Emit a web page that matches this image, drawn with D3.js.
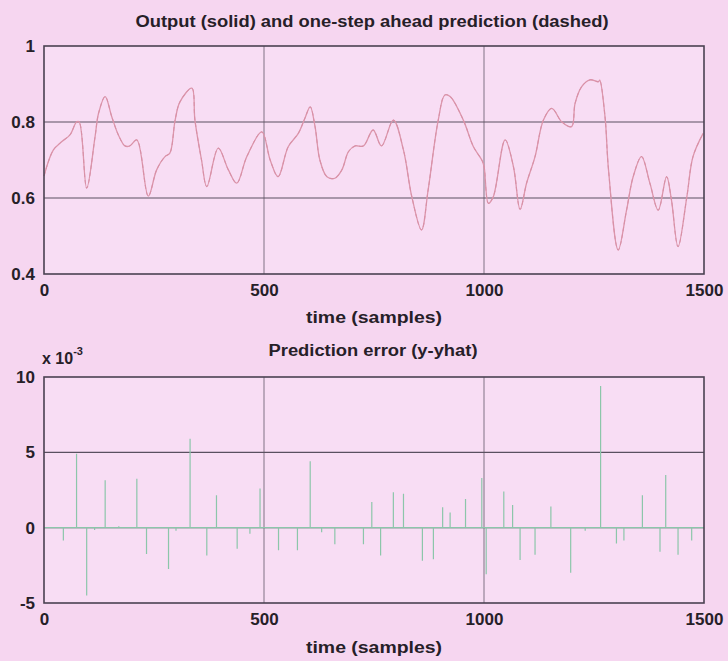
<!DOCTYPE html>
<html>
<head>
<meta charset="utf-8">
<script src="https://cdn.jsdelivr.net/npm/d3@7"></script>
<style>
  html, body { margin: 0; padding: 0; background: #f6d6f0; }
  svg { display: block; }
  text { font-family: "Liberation Sans", Arial, sans-serif; font-weight: bold; fill: #262028; }
</style>
</head>
<body>
<svg id="chart" width="728" height="661"></svg>
<script>
// Output signal y(t): samples read along the time axis
const outT = [0, 21, 40, 59, 74, 80, 97, 116, 124, 139, 154, 169, 184, 195, 211, 237, 256, 275, 286, 298, 309, 336, 343, 358, 370,
  396, 419, 438, 461, 495, 514, 532, 555, 578, 593, 605, 616, 627, 643, 661, 677, 692, 707, 726, 748, 767, 794, 817, 836, 858,
  873, 896, 911, 923, 953, 976, 995, 1000, 1010, 1021, 1048, 1067, 1082, 1097, 1116, 1135, 1154, 1177, 1199, 1207, 1222, 1241,
  1260, 1263, 1275, 1283, 1305, 1324, 1339, 1358, 1377, 1396, 1415, 1426, 1441, 1461, 1475, 1498];
const outY = [0.658, 0.726, 0.748, 0.766, 0.800, 0.800, 0.626, 0.761, 0.823, 0.867, 0.814, 0.766, 0.737, 0.737, 0.753, 0.605, 0.674, 0.709, 0.718, 0.805, 0.853, 0.889, 0.805, 0.700, 0.630,
  0.731, 0.674, 0.639, 0.709, 0.774, 0.700, 0.656, 0.735, 0.770, 0.810, 0.840, 0.788, 0.700, 0.656, 0.652, 0.674, 0.722, 0.737, 0.737, 0.779, 0.737, 0.805, 0.726, 0.603, 0.516,
  0.621, 0.805, 0.871, 0.867, 0.805, 0.735, 0.700, 0.684, 0.586, 0.603, 0.753, 0.682, 0.570, 0.640, 0.709, 0.805, 0.836, 0.800, 0.788, 0.849, 0.893, 0.911,
  0.906, 0.910, 0.814, 0.674, 0.463, 0.568, 0.656, 0.709, 0.639, 0.568, 0.656, 0.595, 0.472, 0.603, 0.709, 0.770];

// Prediction error spikes (units of 1e-3)
const errT = [44, 74, 97, 115, 139, 170, 211, 233, 283, 300, 332, 370, 392, 439, 468, 491, 533, 576, 605, 631, 661, 726, 745, 765,
  794, 817, 860, 885, 906, 923, 958, 995, 1005, 1045, 1065, 1082, 1116, 1152, 1197, 1230, 1265, 1301, 1318, 1360, 1400, 1413, 1441, 1472];
const errV = [-0.85, 4.9, -4.5, -0.15, 3.15, 0.1, 3.25, -1.75, -2.75, -0.2, 5.9, -1.85, 2.15, -1.4, -0.4, 2.6, -1.5, -1.5, 4.4, -0.3, -1.1, -1.1, 1.7, -1.85,
  2.35, 2.25, -2.2, -2.1, 1.35, 1.0, 1.9, 3.3, -3.1, 2.4, 1.5, -2.15, -1.8, 1.4, -3.0, -0.2, 9.4, -1.05, -0.85, 2.15, -1.6, 3.5, -1.8, -0.85];

const xTicks = [0, 500, 1000, 1500];
const yTicksTop = [0.4, 0.6, 0.8, 1];
const yTicksBottom = [-5, 0, 5, 10];

const svg = d3.select("#chart");
const W = 728, H = 661;
svg.append("rect").attr("width", W).attr("height", H).attr("fill", "#f6d6f0");

const left = 44, right = 704;
const x = d3.scaleLinear().domain([0, 1500]).range([left, right]);
const yTop = d3.scaleLinear().domain([0.4, 1]).range([274, 46]);
const yBot = d3.scaleLinear().domain([-5, 10]).range([603, 377]);

const frameColor = "#4a4152";
const gridColor = "#5a5060";
const plainNum = d => String(d);   // ASCII hyphen for negatives, no thousands separator

function panel(y, yTicks) {
  const g = svg.append("g");
  const [y0, y1] = y.range();
  g.append("rect").attr("x", left).attr("y", y1).attr("width", right - left).attr("height", y0 - y1)
    .attr("fill", "#f8ddf4");
  // grid
  g.selectAll(".gx").data(xTicks.slice(1, -1)).join("line")
    .attr("x1", d => x(d)).attr("x2", d => x(d)).attr("y1", y1).attr("y2", y0)
    .attr("stroke", gridColor).attr("stroke-width", 1).attr("opacity", 0.75);
  g.selectAll(".gy").data(yTicks.slice(1, -1)).join("line")
    .attr("x1", left).attr("x2", right).attr("y1", d => y(d)).attr("y2", d => y(d))
    .attr("stroke", gridColor).attr("stroke-width", 1.2);
  // axes via d3
  const ax = g.append("g").attr("transform", `translate(0,${y0})`)
    .call(d3.axisBottom(x).tickValues(xTicks).tickFormat(plainNum).tickSize(0).tickPadding(10));
  ax.select(".domain").remove();
  ax.selectAll("text").attr("font-size", 17).attr("font-family", null).attr("fill", "#262028");
  const ay = g.append("g").attr("transform", `translate(${left},0)`)
    .call(d3.axisLeft(y).tickValues(yTicks).tickFormat(plainNum).tickSize(0).tickPadding(9));
  ay.select(".domain").remove();
  ay.selectAll("text").attr("font-size", 17).attr("font-family", null).attr("fill", "#262028");
  return g;
}

const gTop = panel(yTop, yTicksTop);
const gBot = panel(yBot, yTicksBottom);

// output and prediction curves
const outData = outT.map((t, i) => [t, outY[i]]);
const lineTop = d3.line().x(d => x(d[0])).y(d => yTop(d[1])).curve(d3.curveCatmullRom.alpha(0.5));
gTop.append("path").attr("d", lineTop(outData)).attr("fill", "none")
  .attr("stroke", "#dc96ac").attr("stroke-width", 1.3);
gTop.append("path").attr("d", lineTop(outData)).attr("fill", "none")
  .attr("stroke", "#d890a6").attr("stroke-width", 1).attr("stroke-dasharray", "4,3");

// error trace: flat baseline with a spike at each listed sample
const errPts = [[0, 0]];
errT.forEach((t, i) => { errPts.push([t, 0], [t, errV[i]], [t, 0]); });
errPts.push([1500, 0]);
const lineBot = d3.line().x(d => x(d[0])).y(d => yBot(d[1]));
gBot.append("path").attr("d", lineBot(errPts)).attr("fill", "none")
  .attr("stroke", "#8cc6aa").attr("stroke-width", 1.2);

// frames
[yTop, yBot].forEach(y => {
  const [y0, y1] = y.range();
  svg.append("rect").attr("x", left).attr("y", y1).attr("width", right - left).attr("height", y0 - y1)
    .attr("fill", "none").attr("stroke", frameColor).attr("stroke-width", 1.6);
});

// titles and labels
function label(txt, cx, base, size, width) {
  const t = svg.append("text").attr("x", cx).attr("y", base).attr("text-anchor", "middle")
    .attr("font-size", size).text(txt);
  if (width) t.attr("textLength", width).attr("lengthAdjust", "spacingAndGlyphs");
  return t;
}
label("Output (solid) and one-step ahead prediction (dashed)", 372, 27, 17, 473);
label("time (samples)", 374, 323, 16, 136);
label("Prediction error (y-yhat)", 373, 356, 16, 209);
label("time (samples)", 374, 653, 16, 136);

// exponent marker for the error axis
const ex = svg.append("text").attr("x", 42).attr("y", 364).attr("font-size", 16);
ex.append("tspan").text("x 10");
ex.append("tspan").attr("dy", -9).attr("font-size", 11).text("-3");
</script>
</body>
</html>
